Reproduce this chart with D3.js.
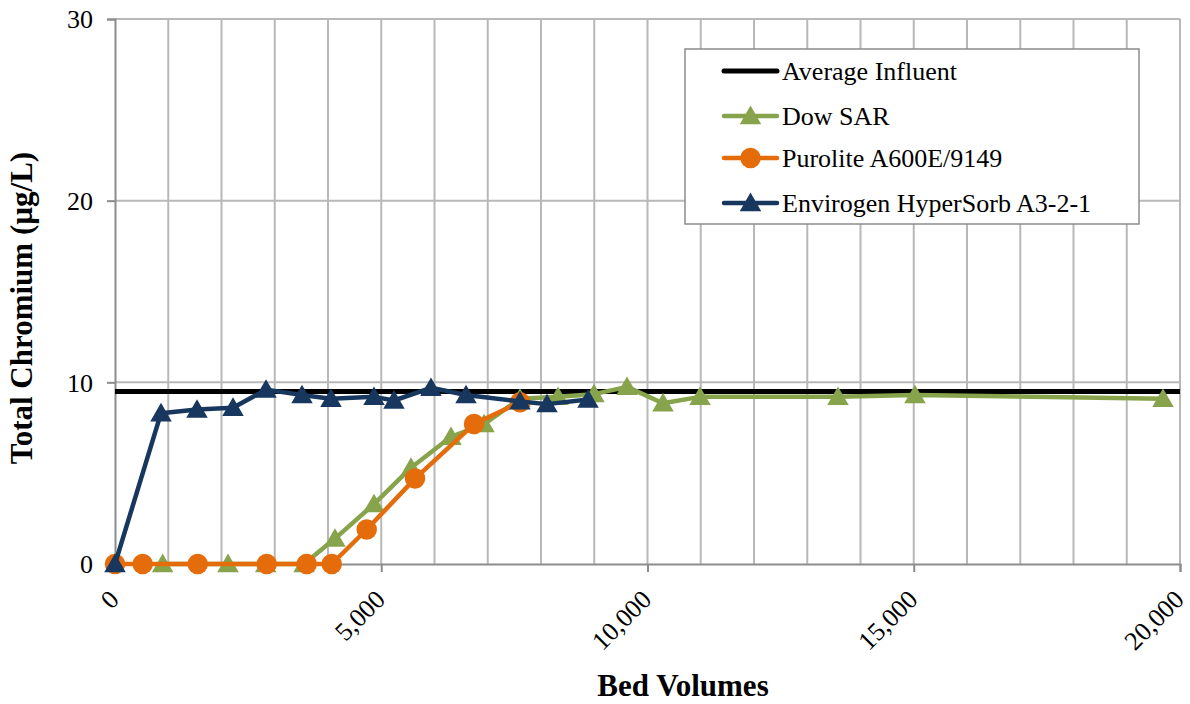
<!DOCTYPE html>
<html><head><meta charset="utf-8">
<script src="https://cdn.jsdelivr.net/npm/d3@7"></script>
<style>body{margin:0;background:#fff}svg{display:block}svg text{font-family:"Liberation Serif","Times New Roman","DejaVu Serif",serif !important;fill:#000}</style>
</head><body><svg id="c" width="1190" height="704"></svg>
<script>
const influentX = [0, 20000];
const influentY = [9.5, 9.5];
const dowX = [895, 2122, 2830, 3550, 4131, 4864, 5559, 6310, 6930, 7606, 8319, 8995, 9615, 10291, 10986, 13577, 15023, 19681];
const dowY = [0, 0, 0, 0, 1.4, 3.3, 5.3, 7.0, 7.7, 9.1, 9.2, 9.35, 9.75, 8.85, 9.2, 9.2, 9.3, 9.1];
const puroX = [0, 520, 1553, 2849, 3600, 4070, 4727, 5634, 6742, 7606];
const puroY = [0, 0, 0, 0, 0, 0, 1.9, 4.7, 7.7, 8.9];
const envX = [0, 864, 1540, 2216, 2836, 3512, 4056, 4864, 5239, 5934, 6592, 7606, 8113, 8883];
const envY = [0, 8.3, 8.5, 8.6, 9.6, 9.3, 9.1, 9.2, 9.0, 9.7, 9.3, 8.95, 8.8, 9.05];
const yTicks = [0, 10, 20, 30];
const xMajor = [0, 5000, 10000, 15000, 20000];
const xMinor = d3.range(0, 20001, 1000);
const seriesNames = ["Average Influent", "Dow SAR", "Purolite A600E/9149", "Envirogen HyperSorb A3-2-1"];

const svg = d3.select("#c");
const L = 115, R = 1180, T = 19, B = 564;
const x = d3.scaleLinear().domain([0, 20000]).range([L, R]);
const y = d3.scaleLinear().domain([0, 30]).range([B, T]);
const gridC = "#b8b8b8", axisC = "#8c8c8c";

// grid
svg.append("g").selectAll("line").data(xMinor.filter(d => d > 0)).join("line")
  .attr("x1", d => x(d)).attr("x2", d => x(d)).attr("y1", T).attr("y2", B)
  .attr("stroke", gridC).attr("stroke-width", 2);
svg.append("g").selectAll("line").data(yTicks.filter(d => d > 0)).join("line")
  .attr("x1", L).attr("x2", R).attr("y1", d => y(d)).attr("y2", d => y(d))
  .attr("stroke", gridC).attr("stroke-width", 2);

// axes
const yAxis = svg.append("g").attr("transform", `translate(${L},0)`)
  .call(d3.axisLeft(y).tickValues(yTicks).tickSize(8).tickPadding(14).tickFormat(d3.format("d")));
const xAxis = svg.append("g").attr("transform", `translate(0,${B})`)
  .call(d3.axisBottom(x).tickValues(xMajor).tickSize(8).tickFormat(d3.format(",")));
[yAxis, xAxis].forEach(g => {
  g.attr("font-family", null).attr("font-size", null);
  g.select(".domain").attr("stroke", axisC).attr("stroke-width", 2);
  g.selectAll(".tick line").attr("stroke", axisC).attr("stroke-width", 2);
  g.selectAll("text").style("font-size", "26px");
});
yAxis.selectAll(".tick text").attr("dy", "0.34em");
xAxis.selectAll(".tick text").attr("text-anchor", "end").attr("dy", 0)
  .attr("y", 0).attr("x", 0).attr("transform", "translate(5,37) rotate(-45)");

// titles
svg.append("text").attr("x", 683).attr("y", 696).attr("text-anchor", "middle")
  .style("font-weight", "bold").style("font-size", "31px").text("Bed Volumes");
svg.append("text").attr("transform", "translate(32,308) rotate(-90)").attr("text-anchor", "middle")
  .style("font-weight", "bold").style("font-size", "31px").text("Total Chromium (µg/L)");

const line = d3.line().x(d => x(d[0])).y(d => y(d[1]));
const tri = d3.symbol().type(d3.symbolTriangle).size(200);
const circ = d3.symbol().type(d3.symbolCircle).size(330);

function series(xs, ys, color, sym, w) {
  const pts = xs.map((v, i) => [v, ys[i]]);
  const g = svg.append("g");
  g.append("path").datum(pts).attr("d", line).attr("fill", "none")
    .attr("stroke", color).attr("stroke-width", w).attr("stroke-linejoin", "round");
  if (sym) g.selectAll("path.m").data(pts).join("path").attr("class", "m")
    .attr("d", sym).attr("transform", d => `translate(${x(d[0])},${y(d[1]) + (sym === tri ? 2 : 0)})`)
    .attr("fill", color);
}
const colors = ["#000000", "#87A34B", "#E46C0A", "#17375E"];
series(influentX, influentY, colors[0], null, 5);
series(dowX, dowY, colors[1], tri, 4.5);
series(puroX, puroY, colors[2], circ, 4.5);
series(envX, envY, colors[3], tri, 4.5);

// legend
const lg = svg.append("g");
lg.append("rect").attr("x", 685).attr("y", 49).attr("width", 454).attr("height", 175)
  .attr("fill", "#fff").attr("stroke", "#8c8c8c").attr("stroke-width", 1.5);
const rows = [71, 116, 158, 203];
const syms = [null, tri, circ, tri];
seriesNames.forEach((n, i) => {
  lg.append("line").attr("x1", 724).attr("x2", 777).attr("y1", rows[i]).attr("y2", rows[i])
    .attr("stroke", colors[i]).attr("stroke-width", i === 0 ? 5 : 4.5).attr("stroke-linecap", "round");
  if (syms[i]) lg.append("path").attr("d", syms[i]).attr("fill", colors[i])
    .attr("transform", `translate(750.5,${rows[i] + (syms[i] === tri ? 2 : 0)})`);
  lg.append("text").attr("x", 782).attr("y", rows[i] + 8.5).style("font-size", "26px").text(n);
});
</script></body></html>
